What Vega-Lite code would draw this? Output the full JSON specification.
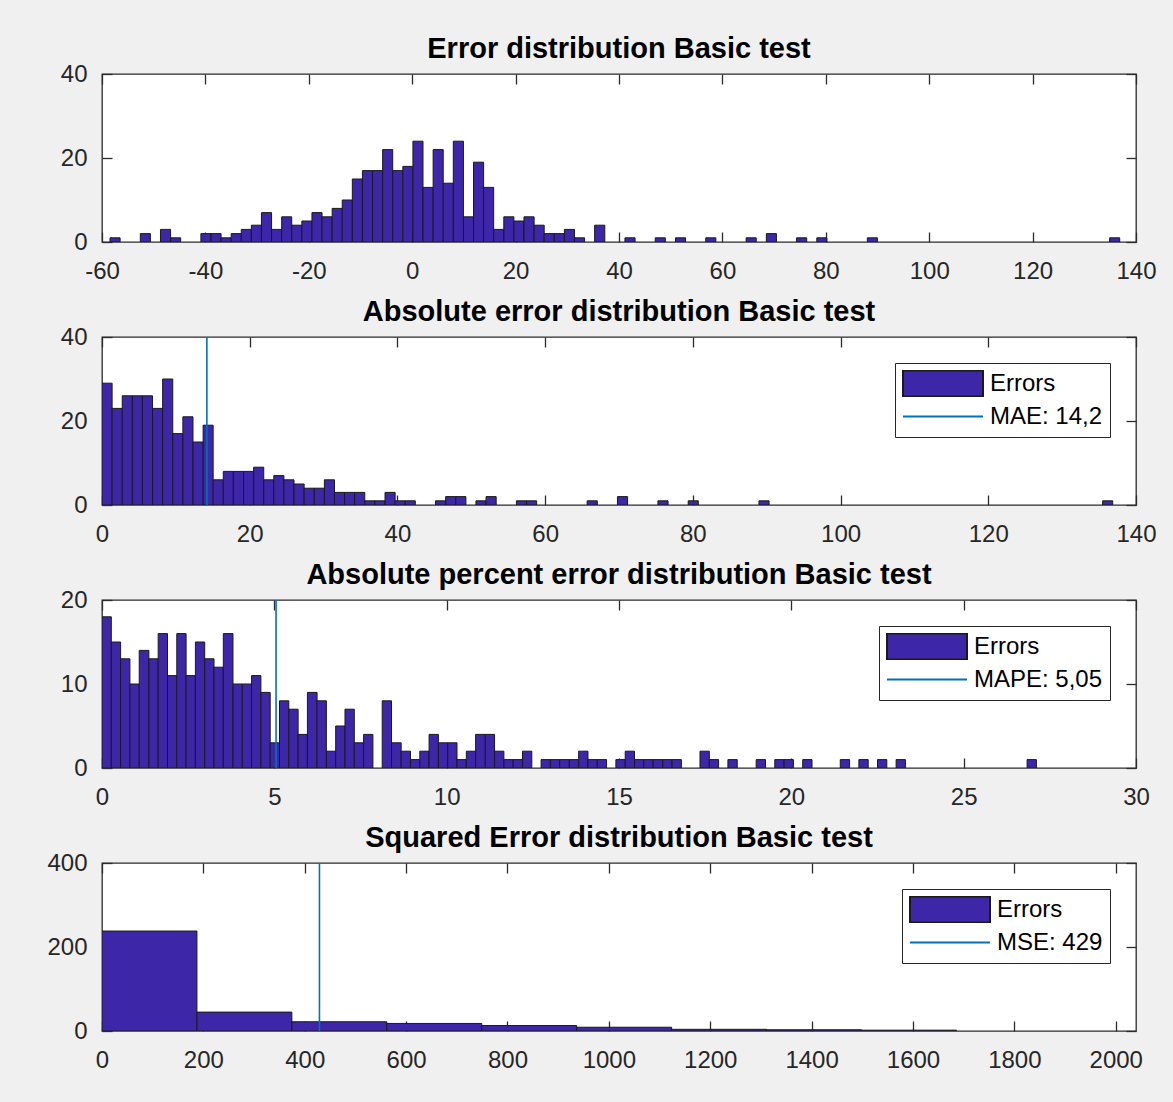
{
  "$schema": "https://vega.github.io/schema/vega-lite/v6.json",
  "background": "#f0f0f0",
  "padding": {"left": 46, "top": 34, "right": 18, "bottom": 30},
  "spacing": 95,
  "bounds": "flush",
  "resolve": {
    "scale": {"x": "independent", "y": "independent", "fill": "independent", "stroke": "independent", "shape": "independent"},
    "legend": {"fill": "independent", "stroke": "independent", "shape": "independent"}
  },
  "config": {
    "font": "Liberation Sans",
    "view": {"fill": "white", "stroke": "#2b2b2b", "strokeWidth": 1.3},
    "axis": {"grid": false, "domain": false, "tickSize": -10, "tickColor": "#2b2b2b", "tickWidth": 1.3, "labelFont": "Liberation Sans", "labelFontSize": 24, "labelColor": "#262626", "labelFlush": false, "labelOverlap": false, "labelExpr": "'' + datum.value"},
    "axisX": {"labelPadding": 27},
    "axisY": {"labelPadding": 25},
    "title": {"font": "Liberation Sans", "fontSize": 29, "fontWeight": "bold", "color": "#000000", "offset": -2, "anchor": "middle"},
    "legend": {"orient": "top-right", "offset": 26, "padding": 7, "strokeColor": "#262626", "fillColor": "#ffffff", "cornerRadius": 0, "labelFont": "Liberation Sans", "labelFontSize": 24, "labelColor": "#000000", "labelOffset": 6, "labelLimit": 400, "symbolSize": 6400, "symbolStrokeWidth": 2, "symbolOpacity": 1, "clipHeight": 27, "rowPadding": 6}
  },
  "vconcat": [
    {
      "width": 1034, "height": 168,
      "title": "Error distribution Basic test",
      "resolve": {"axis": {"x": "independent", "y": "independent"}},
      "layer": [
        {
          "data": {"values": [
            {"lo": -58.45, "hi": -56.50, "n": 1}, {"lo": -52.59, "hi": -50.64, "n": 2}, {"lo": -48.69, "hi": -46.73, "n": 3}, {"lo": -46.73, "hi": -44.78, "n": 1},
            {"lo": -40.87, "hi": -38.92, "n": 2}, {"lo": -38.92, "hi": -36.97, "n": 2}, {"lo": -36.97, "hi": -35.01, "n": 1}, {"lo": -35.01, "hi": -33.06, "n": 2},
            {"lo": -33.06, "hi": -31.11, "n": 3}, {"lo": -31.11, "hi": -29.16, "n": 4}, {"lo": -29.16, "hi": -27.20, "n": 7}, {"lo": -27.20, "hi": -25.25, "n": 3},
            {"lo": -25.25, "hi": -23.30, "n": 6}, {"lo": -23.30, "hi": -21.34, "n": 4}, {"lo": -21.34, "hi": -19.39, "n": 5}, {"lo": -19.39, "hi": -17.44, "n": 7},
            {"lo": -17.44, "hi": -15.48, "n": 6}, {"lo": -15.48, "hi": -13.53, "n": 8}, {"lo": -13.53, "hi": -11.58, "n": 10}, {"lo": -11.58, "hi": -9.63, "n": 15},
            {"lo": -9.63, "hi": -7.67, "n": 17}, {"lo": -7.67, "hi": -5.72, "n": 17}, {"lo": -5.72, "hi": -3.77, "n": 22}, {"lo": -3.77, "hi": -1.81, "n": 17},
            {"lo": -1.81, "hi": 0.14, "n": 18}, {"lo": 0.14, "hi": 2.09, "n": 24}, {"lo": 2.09, "hi": 4.05, "n": 13}, {"lo": 4.05, "hi": 6.00, "n": 22},
            {"lo": 6.00, "hi": 7.95, "n": 14}, {"lo": 7.95, "hi": 9.91, "n": 24}, {"lo": 9.91, "hi": 11.86, "n": 6}, {"lo": 11.86, "hi": 13.81, "n": 19},
            {"lo": 13.81, "hi": 15.76, "n": 13}, {"lo": 15.76, "hi": 17.72, "n": 3}, {"lo": 17.72, "hi": 19.67, "n": 6}, {"lo": 19.67, "hi": 21.62, "n": 5},
            {"lo": 21.62, "hi": 23.58, "n": 6}, {"lo": 23.58, "hi": 25.53, "n": 4}, {"lo": 25.53, "hi": 27.48, "n": 2}, {"lo": 27.48, "hi": 29.44, "n": 2},
            {"lo": 29.44, "hi": 31.39, "n": 3}, {"lo": 31.39, "hi": 33.34, "n": 1}, {"lo": 35.29, "hi": 37.25, "n": 4}, {"lo": 41.15, "hi": 43.11, "n": 1},
            {"lo": 47.01, "hi": 48.97, "n": 1}, {"lo": 50.92, "hi": 52.87, "n": 1}, {"lo": 56.78, "hi": 58.73, "n": 1}, {"lo": 64.59, "hi": 66.54, "n": 1},
            {"lo": 68.50, "hi": 70.45, "n": 2}, {"lo": 74.35, "hi": 76.31, "n": 1}, {"lo": 78.26, "hi": 80.21, "n": 1}, {"lo": 88.03, "hi": 89.98, "n": 1},
            {"lo": 134.90, "hi": 136.85, "n": 1}
          ]},
          "mark": {"type": "bar", "fill": "#3e26a8", "stroke": "#1a1a1a", "strokeWidth": 1, "clip": true},
          "encoding": {
            "x": {"field": "lo", "type": "quantitative", "title": null, "scale": {"domain": [-60, 140], "nice": false, "zero": false}, "axis": {"orient": "bottom", "values": [-60, -40, -20, 0, 20, 40, 60, 80, 100, 120, 140]}},
            "x2": {"field": "hi"},
            "y": {"field": "n", "type": "quantitative", "title": null, "scale": {"domain": [0, 40], "nice": false}, "axis": {"orient": "left", "values": [0, 20, 40]}},
            "y2": {"datum": 0}
          }
        },
        {
          "data": {"values": []},
          "mark": {"type": "point"},
          "encoding": {
            "x": {"field": "a", "type": "quantitative", "title": null, "axis": {"orient": "top", "labels": false, "labelPadding": 0, "values": [-60, -40, -20, 0, 20, 40, 60, 80, 100, 120, 140]}},
            "y": {"field": "b", "type": "quantitative", "title": null, "axis": {"orient": "right", "labels": false, "labelPadding": 0, "values": [0, 20, 40]}}
          }
        }
      ]
    },
    {
      "width": 1034, "height": 168,
      "title": "Absolute error distribution Basic test",
      "resolve": {"axis": {"x": "independent", "y": "independent"}},
      "layer": [
        {
          "data": {"values": [
            {"lo": 0, "hi": 1.37, "n": 29}, {"lo": 1.37, "hi": 2.74, "n": 23}, {"lo": 2.74, "hi": 4.11, "n": 26}, {"lo": 4.11, "hi": 5.47, "n": 26},
            {"lo": 5.47, "hi": 6.84, "n": 26}, {"lo": 6.84, "hi": 8.21, "n": 23}, {"lo": 8.21, "hi": 9.58, "n": 30}, {"lo": 9.58, "hi": 10.95, "n": 17},
            {"lo": 10.95, "hi": 12.32, "n": 21}, {"lo": 12.32, "hi": 13.69, "n": 15}, {"lo": 13.69, "hi": 15.05, "n": 19}, {"lo": 15.05, "hi": 16.42, "n": 6},
            {"lo": 16.42, "hi": 17.79, "n": 8}, {"lo": 17.79, "hi": 19.16, "n": 8}, {"lo": 19.16, "hi": 20.53, "n": 8}, {"lo": 20.53, "hi": 21.90, "n": 9},
            {"lo": 21.90, "hi": 23.26, "n": 6}, {"lo": 23.26, "hi": 24.63, "n": 7}, {"lo": 24.63, "hi": 26.00, "n": 6}, {"lo": 26.00, "hi": 27.37, "n": 5},
            {"lo": 27.37, "hi": 28.74, "n": 4}, {"lo": 28.74, "hi": 30.11, "n": 4}, {"lo": 30.11, "hi": 31.48, "n": 6}, {"lo": 31.48, "hi": 32.84, "n": 3},
            {"lo": 32.84, "hi": 34.21, "n": 3}, {"lo": 34.21, "hi": 35.58, "n": 3}, {"lo": 35.58, "hi": 36.95, "n": 1}, {"lo": 36.95, "hi": 38.32, "n": 1},
            {"lo": 38.32, "hi": 39.69, "n": 3}, {"lo": 39.69, "hi": 41.06, "n": 1}, {"lo": 41.06, "hi": 42.42, "n": 1}, {"lo": 45.16, "hi": 46.53, "n": 1},
            {"lo": 46.53, "hi": 47.90, "n": 2}, {"lo": 47.90, "hi": 49.27, "n": 2}, {"lo": 50.63, "hi": 52.00, "n": 1}, {"lo": 52.00, "hi": 53.37, "n": 2},
            {"lo": 56.11, "hi": 57.48, "n": 1}, {"lo": 57.48, "hi": 58.85, "n": 1}, {"lo": 65.69, "hi": 67.06, "n": 1}, {"lo": 69.79, "hi": 71.16, "n": 2},
            {"lo": 75.27, "hi": 76.64, "n": 1}, {"lo": 79.37, "hi": 80.74, "n": 1}, {"lo": 88.95, "hi": 90.32, "n": 1}, {"lo": 135.48, "hi": 136.85, "n": 1}
          ]},
          "mark": {"type": "bar", "fill": "#3e26a8", "stroke": "#1a1a1a", "strokeWidth": 1, "clip": true},
          "encoding": {
            "x": {"field": "lo", "type": "quantitative", "title": null, "scale": {"domain": [0, 140], "nice": false, "zero": false}, "axis": {"orient": "bottom", "values": [0, 20, 40, 60, 80, 100, 120, 140]}},
            "x2": {"field": "hi"},
            "y": {"field": "n", "type": "quantitative", "title": null, "scale": {"domain": [0, 40], "nice": false}, "axis": {"orient": "left", "values": [0, 20, 40]}},
            "y2": {"datum": 0}
          }
        },
        {
          "data": {"values": [{"v": 14.2}]},
          "mark": {"type": "rule", "stroke": "#0072bd", "strokeWidth": 1.6},
          "encoding": {
            "x": {"field": "v", "type": "quantitative", "axis": null}
          }
        },
        {
          "data": {"values": []},
          "mark": {"type": "point", "filled": true, "opacity": 1},
          "encoding": {
            "x": {"field": "a", "type": "quantitative", "title": null, "axis": {"orient": "top", "labels": false, "labelPadding": 0, "values": [0, 20, 40, 60, 80, 100, 120, 140]}},
            "y": {"field": "b", "type": "quantitative", "title": null, "axis": {"orient": "right", "labels": false, "labelPadding": 0, "values": [0, 20, 40]}},
            "fill": {"field": "s", "type": "nominal", "scale": {"domain": ["Errors", "MAE: 14,2"], "range": ["#3e26a8", "#0072bd"]}, "legend": {"title": null}},
            "stroke": {"field": "s", "type": "nominal", "scale": {"domain": ["Errors", "MAE: 14,2"], "range": ["#1a1a1a", "#0072bd"]}, "legend": {"title": null}},
            "shape": {"field": "s", "type": "nominal", "scale": {"domain": ["Errors", "MAE: 14,2"], "range": ["M-1,-0.325H1V0.325H-1Z", "M-1,0H1"]}, "legend": {"title": null}}
          }
        }
      ]
    },
    {
      "width": 1034, "height": 168,
      "title": "Absolute percent error distribution Basic test",
      "resolve": {"axis": {"x": "independent", "y": "independent"}},
      "layer": [
        {
          "data": {"values": [
            {"lo": 0, "hi": 0.27, "n": 18}, {"lo": 0.27, "hi": 0.54, "n": 15}, {"lo": 0.54, "hi": 0.81, "n": 13}, {"lo": 0.81, "hi": 1.08, "n": 10},
            {"lo": 1.08, "hi": 1.36, "n": 14}, {"lo": 1.36, "hi": 1.63, "n": 13}, {"lo": 1.63, "hi": 1.90, "n": 16}, {"lo": 1.90, "hi": 2.17, "n": 11},
            {"lo": 2.17, "hi": 2.44, "n": 16}, {"lo": 2.44, "hi": 2.71, "n": 11}, {"lo": 2.71, "hi": 2.98, "n": 15}, {"lo": 2.98, "hi": 3.25, "n": 13},
            {"lo": 3.25, "hi": 3.52, "n": 12}, {"lo": 3.52, "hi": 3.80, "n": 16}, {"lo": 3.80, "hi": 4.07, "n": 10}, {"lo": 4.07, "hi": 4.34, "n": 10},
            {"lo": 4.34, "hi": 4.61, "n": 11}, {"lo": 4.61, "hi": 4.88, "n": 9}, {"lo": 4.88, "hi": 5.15, "n": 3}, {"lo": 5.15, "hi": 5.42, "n": 8},
            {"lo": 5.42, "hi": 5.69, "n": 7}, {"lo": 5.69, "hi": 5.96, "n": 4}, {"lo": 5.96, "hi": 6.24, "n": 9}, {"lo": 6.24, "hi": 6.51, "n": 8},
            {"lo": 6.51, "hi": 6.78, "n": 2}, {"lo": 6.78, "hi": 7.05, "n": 5}, {"lo": 7.05, "hi": 7.32, "n": 7}, {"lo": 7.32, "hi": 7.59, "n": 3},
            {"lo": 7.59, "hi": 7.86, "n": 4}, {"lo": 8.13, "hi": 8.40, "n": 8}, {"lo": 8.40, "hi": 8.68, "n": 3}, {"lo": 8.68, "hi": 8.95, "n": 2},
            {"lo": 8.95, "hi": 9.22, "n": 1}, {"lo": 9.22, "hi": 9.49, "n": 2}, {"lo": 9.49, "hi": 9.76, "n": 4}, {"lo": 9.76, "hi": 10.03, "n": 3},
            {"lo": 10.03, "hi": 10.30, "n": 3}, {"lo": 10.30, "hi": 10.57, "n": 1}, {"lo": 10.57, "hi": 10.84, "n": 2}, {"lo": 10.84, "hi": 11.12, "n": 4},
            {"lo": 11.12, "hi": 11.39, "n": 4}, {"lo": 11.39, "hi": 11.66, "n": 2}, {"lo": 11.66, "hi": 11.93, "n": 1}, {"lo": 11.93, "hi": 12.20, "n": 1},
            {"lo": 12.20, "hi": 12.47, "n": 2}, {"lo": 12.74, "hi": 13.01, "n": 1}, {"lo": 13.01, "hi": 13.28, "n": 1}, {"lo": 13.28, "hi": 13.56, "n": 1},
            {"lo": 13.56, "hi": 13.83, "n": 1}, {"lo": 13.83, "hi": 14.10, "n": 2}, {"lo": 14.10, "hi": 14.37, "n": 1}, {"lo": 14.37, "hi": 14.64, "n": 1},
            {"lo": 14.91, "hi": 15.18, "n": 1}, {"lo": 15.18, "hi": 15.45, "n": 2}, {"lo": 15.45, "hi": 15.72, "n": 1}, {"lo": 15.72, "hi": 15.99, "n": 1},
            {"lo": 15.99, "hi": 16.27, "n": 1}, {"lo": 16.27, "hi": 16.54, "n": 1}, {"lo": 16.54, "hi": 16.81, "n": 1}, {"lo": 17.35, "hi": 17.62, "n": 2},
            {"lo": 17.62, "hi": 17.89, "n": 1}, {"lo": 18.16, "hi": 18.43, "n": 1}, {"lo": 18.98, "hi": 19.25, "n": 1}, {"lo": 19.52, "hi": 19.79, "n": 1},
            {"lo": 19.79, "hi": 20.06, "n": 1}, {"lo": 20.33, "hi": 20.60, "n": 1}, {"lo": 21.42, "hi": 21.69, "n": 1}, {"lo": 21.96, "hi": 22.23, "n": 1},
            {"lo": 22.50, "hi": 22.77, "n": 1}, {"lo": 23.04, "hi": 23.31, "n": 1}, {"lo": 26.84, "hi": 27.11, "n": 1}
          ]},
          "mark": {"type": "bar", "fill": "#3e26a8", "stroke": "#1a1a1a", "strokeWidth": 1, "clip": true},
          "encoding": {
            "x": {"field": "lo", "type": "quantitative", "title": null, "scale": {"domain": [0, 30], "nice": false, "zero": false}, "axis": {"orient": "bottom", "values": [0, 5, 10, 15, 20, 25, 30]}},
            "x2": {"field": "hi"},
            "y": {"field": "n", "type": "quantitative", "title": null, "scale": {"domain": [0, 20], "nice": false}, "axis": {"orient": "left", "values": [0, 10, 20]}},
            "y2": {"datum": 0}
          }
        },
        {
          "data": {"values": [{"v": 5.05}]},
          "mark": {"type": "rule", "stroke": "#0072bd", "strokeWidth": 1.6},
          "encoding": {
            "x": {"field": "v", "type": "quantitative", "axis": null}
          }
        },
        {
          "data": {"values": []},
          "mark": {"type": "point", "filled": true, "opacity": 1},
          "encoding": {
            "x": {"field": "a", "type": "quantitative", "title": null, "axis": {"orient": "top", "labels": false, "labelPadding": 0, "values": [0, 5, 10, 15, 20, 25, 30]}},
            "y": {"field": "b", "type": "quantitative", "title": null, "axis": {"orient": "right", "labels": false, "labelPadding": 0, "values": [0, 10, 20]}},
            "fill": {"field": "s", "type": "nominal", "scale": {"domain": ["Errors", "MAPE: 5,05"], "range": ["#3e26a8", "#0072bd"]}, "legend": {"title": null}},
            "stroke": {"field": "s", "type": "nominal", "scale": {"domain": ["Errors", "MAPE: 5,05"], "range": ["#1a1a1a", "#0072bd"]}, "legend": {"title": null}},
            "shape": {"field": "s", "type": "nominal", "scale": {"domain": ["Errors", "MAPE: 5,05"], "range": ["M-1,-0.325H1V0.325H-1Z", "M-1,0H1"]}, "legend": {"title": null}}
          }
        }
      ]
    },
    {
      "width": 1034, "height": 168,
      "title": "Squared Error distribution Basic test",
      "resolve": {"axis": {"x": "independent", "y": "independent"}},
      "layer": [
        {
          "data": {"values": [
            {"lo": 0, "hi": 187.3, "n": 238}, {"lo": 187.3, "hi": 374.6, "n": 45}, {"lo": 374.6, "hi": 561.9, "n": 22},
            {"lo": 561.9, "hi": 749.2, "n": 18}, {"lo": 749.2, "hi": 936.5, "n": 13}, {"lo": 936.5, "hi": 1123.8, "n": 9},
            {"lo": 1123.8, "hi": 1311.1, "n": 4}, {"lo": 1311.1, "hi": 1498.4, "n": 3}, {"lo": 1498.4, "hi": 1685.7, "n": 2}
          ]},
          "mark": {"type": "bar", "fill": "#3e26a8", "stroke": "#1a1a1a", "strokeWidth": 1, "clip": true},
          "encoding": {
            "x": {"field": "lo", "type": "quantitative", "title": null, "scale": {"domain": [0, 2040], "nice": false, "zero": false}, "axis": {"orient": "bottom", "values": [0, 200, 400, 600, 800, 1000, 1200, 1400, 1600, 1800, 2000]}},
            "x2": {"field": "hi"},
            "y": {"field": "n", "type": "quantitative", "title": null, "scale": {"domain": [0, 400], "nice": false}, "axis": {"orient": "left", "values": [0, 200, 400]}},
            "y2": {"datum": 0}
          }
        },
        {
          "data": {"values": [{"v": 429}]},
          "mark": {"type": "rule", "stroke": "#0072bd", "strokeWidth": 1.6},
          "encoding": {
            "x": {"field": "v", "type": "quantitative", "axis": null}
          }
        },
        {
          "data": {"values": []},
          "mark": {"type": "point", "filled": true, "opacity": 1},
          "encoding": {
            "x": {"field": "a", "type": "quantitative", "title": null, "axis": {"orient": "top", "labels": false, "labelPadding": 0, "values": [0, 200, 400, 600, 800, 1000, 1200, 1400, 1600, 1800, 2000]}},
            "y": {"field": "b", "type": "quantitative", "title": null, "axis": {"orient": "right", "labels": false, "labelPadding": 0, "values": [0, 200, 400]}},
            "fill": {"field": "s", "type": "nominal", "scale": {"domain": ["Errors", "MSE: 429"], "range": ["#3e26a8", "#0072bd"]}, "legend": {"title": null}},
            "stroke": {"field": "s", "type": "nominal", "scale": {"domain": ["Errors", "MSE: 429"], "range": ["#1a1a1a", "#0072bd"]}, "legend": {"title": null}},
            "shape": {"field": "s", "type": "nominal", "scale": {"domain": ["Errors", "MSE: 429"], "range": ["M-1,-0.325H1V0.325H-1Z", "M-1,0H1"]}, "legend": {"title": null}}
          }
        }
      ]
    }
  ]
}
